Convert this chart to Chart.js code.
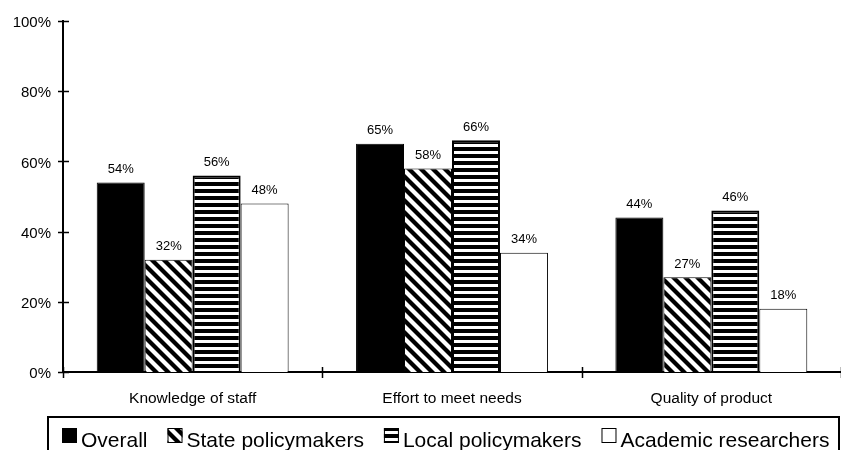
<!DOCTYPE html>
<html>
<head>
<meta charset="utf-8">
<script src="https://cdn.jsdelivr.net/npm/chart.js@4/dist/chart.umd.min.js"></script>
<style>
  html, body { margin: 0; padding: 0; background: #fff; }
  #wrap { width: 841px; height: 450px; }
</style>
</head>
<body>
<div id="wrap"><canvas id="chart" width="841" height="450"></canvas></div>
<script>
// Categories, series and tick labels
const categories = ['Knowledge of staff', 'Effort to meet needs', 'Quality of product'];
const seriesNames = ['Overall', 'State policymakers', 'Local policymakers', 'Academic researchers'];
const overall = [54, 65, 44];
const statePolicymakers = [32, 58, 27];
const localPolicymakers = [56, 66, 46];
const academicResearchers = [48, 34, 18];
const yTicks = [0, 20, 40, 60, 80, 100];

const FONT = '"Liberation Sans", Arial, Helvetica, sans-serif';

// Fill patterns: diagonal hatching and horizontal stripes
function hatchPattern() {
  const s = 12;
  const c = document.createElement('canvas');
  c.width = s; c.height = s;
  const g = c.getContext('2d');
  g.fillStyle = '#fff';
  g.fillRect(0, 0, s, s);
  g.strokeStyle = '#000';
  g.lineWidth = 4.2;
  for (const off of [-s, 0, s]) {
    g.beginPath();
    g.moveTo(off - 2, -2);
    g.lineTo(off + s + 2, s + 2);
    g.stroke();
  }
  return g.createPattern(c, 'repeat');
}
function stripePattern() {
  const c = document.createElement('canvas');
  c.width = 4; c.height = 7;
  const g = c.getContext('2d');
  g.fillStyle = '#fff';
  g.fillRect(0, 0, 4, 7);
  g.fillStyle = '#000';
  g.fillRect(0, 0, 4, 4);
  return g.createPattern(c, 'repeat');
}

const ctxEl = document.getElementById('chart');
const hatch = hatchPattern();
const stripes = stripePattern();

const fills = ['#000', hatch, stripes, '#fff'];
const seriesValues = [overall, statePolicymakers, localPolicymakers, academicResearchers];

const datasets = seriesNames.map((name, i) => ({
  label: name,
  data: seriesValues[i],
  backgroundColor: fills[i],
  borderColor: '#000',
  borderWidth: i === 2 ? 2 : 1,
  barPercentage: 1,
  categoryPercentage: 0.74
}));

// Value labels above each bar
const valueLabels = {
  id: 'valueLabels',
  afterDatasetsDraw(chart) {
    const c = chart.ctx;
    c.save();
    c.font = '13px ' + FONT;
    c.fillStyle = '#000';
    c.textAlign = 'center';
    c.textBaseline = 'middle';
    chart.data.datasets.forEach((ds, di) => {
      const meta = chart.getDatasetMeta(di);
      meta.data.forEach((bar, i) => {
        c.fillText(ds.data[i] + '%', bar.x, bar.y - 13);
      });
    });
    c.restore();
  }
};

// Tick marks that cross both axis lines
const crossTicks = {
  id: 'crossTicks',
  afterDraw(chart) {
    const c = chart.ctx;
    const x = chart.scales.x, y = chart.scales.y;
    const area = chart.chartArea;
    c.save();
    c.strokeStyle = '#000';
    c.lineWidth = 1.5;
    yTicks.forEach(v => {
      const py = Math.round(y.getPixelForValue(v)) + 0.5;
      c.beginPath();
      c.moveTo(area.left - 5, py);
      c.lineTo(area.left + 6, py);
      c.stroke();
    });
    for (let i = 0; i <= categories.length; i++) {
      const px = Math.round(x.getPixelForValue(i - 0.5)) + 0.5;
      c.beginPath();
      c.moveTo(px, area.bottom - 5);
      c.lineTo(px, area.bottom + 6);
      c.stroke();
    }
    c.restore();
  }
};

// Boxed legend along the bottom
const boxedLegend = {
  id: 'boxedLegend',
  afterDraw(chart) {
    const c = chart.ctx;
    c.save();
    c.strokeStyle = '#000';
    c.lineWidth = 2;
    c.strokeRect(48, 417, 791, 50);
    c.font = '21px ' + FONT;
    c.textBaseline = 'alphabetic';
    c.textAlign = 'left';
    let cx = 62;
    chart.data.datasets.forEach(ds => {
      const size = 15, top = 428;
      c.fillStyle = ds.backgroundColor;
      c.fillRect(cx, top, size, size);
      if (ds.backgroundColor !== '#000') {
        c.lineWidth = 1;
        c.strokeStyle = '#000';
        c.strokeRect(cx + 0.5, top + 0.5, size - 1, size - 1);
      }
      c.fillStyle = '#000';
      const tx = cx + size + 4;
      c.fillText(ds.label, tx, 447);
      cx = tx + c.measureText(ds.label).width + 20;
    });
    c.restore();
  }
};

new Chart(ctxEl, {
  type: 'bar',
  data: { labels: categories, datasets },
  options: {
    responsive: false,
    animation: false,
    devicePixelRatio: 1,
    layout: { padding: { top: 18, right: 0, bottom: 0, left: 0 } },
    plugins: {
      legend: { display: false },
      tooltip: { enabled: false }
    },
    scales: {
      x: {
        grid: { display: false, drawTicks: false },
        border: { display: true, color: '#000', width: 2 },
        ticks: {
          color: '#000',
          font: { family: FONT, size: 15.5 },
          padding: 17,
          maxRotation: 0
        },
        afterFit(scale) { scale.height = 78; }
      },
      y: {
        min: 0,
        max: 100,
        afterBuildTicks(scale) { scale.ticks = yTicks.map(v => ({ value: v })); },
        grid: { display: false, drawTicks: false },
        border: { display: true, color: '#000', width: 2 },
        ticks: {
          color: '#000',
          font: { family: FONT, size: 15 },
          padding: 12,
          labelOffset: 2,
          callback: v => v + '%'
        },
        afterFit(scale) { scale.width = 63; }
      }
    }
  },
  plugins: [valueLabels, crossTicks, boxedLegend]
});
</script>
</body>
</html>
